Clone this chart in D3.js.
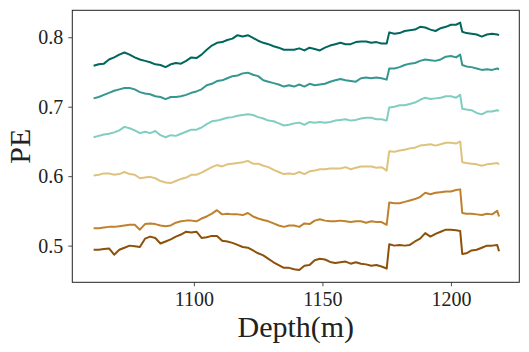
<!DOCTYPE html>
<html>
<head>
<meta charset="utf-8">
<script src="https://cdn.jsdelivr.net/npm/d3@7/dist/d3.min.js"></script>
<style>
  body { margin: 0; background: #fff; }
  svg text { font-family: "Liberation Serif", "DejaVu Serif", serif; fill: #222; }
</style>
</head>
<body>
<svg width="529" height="352"></svg>
<script>
// depth samples (m)
var depths = [1061,1063,1065,1067,1069,1071,1073,1075,1077,1079,1081,1083,1085,1087,1089,1091,
  1093,1095,1097,1099,1101,1103,1105,1107,1109,1111,1113,1115,1117,1119,1121,1123,1125,
  1127,1129,1131,1133,1135,1137,1139,1141,1143,1145,1147,1149,1151,1153,1155,1157,1159,
  1161,1163,1165,1167,1169,1171,1173,1175,
  1176,1178,1180,1182,1184,1186,1188,1190,1192,
  1194,1196,1198,1200,1202,1203.6,1204.4,
  1206,1208,1210,1212,1214,1216,1218,1218.7];

var pe1 = [0.759,0.761,0.762,0.768,0.771,0.775,0.778,0.775,0.771,0.768,0.766,0.764,0.761,0.760,0.757,0.761,
  0.763,0.762,0.766,0.771,0.770,0.775,0.782,0.788,0.792,0.793,0.796,0.798,0.803,0.801,0.803,0.799,0.795,
  0.792,0.790,0.787,0.785,0.782,0.782,0.782,0.784,0.781,0.785,0.783,0.781,0.785,0.788,0.790,0.792,0.790,
  0.790,0.793,0.794,0.794,0.792,0.793,0.791,0.791,
  0.807,0.805,0.806,0.809,0.810,0.811,0.815,0.814,0.811,
  0.809,0.813,0.815,0.818,0.818,0.821,0.808,
  0.806,0.805,0.804,0.801,0.804,0.805,0.804,0.803];

var pe2 = [0.712,0.714,0.717,0.720,0.723,0.725,0.727,0.727,0.725,0.721,0.719,0.718,0.715,0.714,0.711,0.714,
  0.714,0.715,0.717,0.720,0.722,0.725,0.731,0.733,0.737,0.738,0.741,0.744,0.745,0.748,0.749,0.746,0.744,
  0.738,0.736,0.734,0.732,0.729,0.731,0.729,0.732,0.729,0.733,0.731,0.732,0.733,0.736,0.738,0.740,0.738,
  0.737,0.736,0.741,0.742,0.741,0.742,0.741,0.739,
  0.755,0.755,0.757,0.760,0.762,0.763,0.766,0.768,0.767,
  0.766,0.768,0.772,0.773,0.771,0.775,0.760,
  0.758,0.757,0.755,0.753,0.754,0.753,0.755,0.754];

var pe3 = [0.656,0.658,0.660,0.661,0.663,0.666,0.671,0.669,0.666,0.662,0.664,0.662,0.665,0.659,0.656,0.659,
  0.658,0.661,0.664,0.667,0.667,0.670,0.675,0.679,0.680,0.682,0.684,0.685,0.687,0.688,0.689,0.688,0.685,
  0.683,0.680,0.679,0.676,0.673,0.674,0.676,0.677,0.674,0.678,0.677,0.678,0.677,0.678,0.680,0.681,0.682,
  0.680,0.681,0.683,0.684,0.684,0.682,0.682,0.680,
  0.699,0.700,0.702,0.702,0.704,0.706,0.710,0.713,0.711,
  0.712,0.713,0.715,0.715,0.713,0.717,0.697,
  0.696,0.695,0.691,0.689,0.693,0.693,0.695,0.694];

var pe4 = [0.601,0.602,0.604,0.604,0.602,0.603,0.606,0.603,0.602,0.597,0.598,0.599,0.597,0.593,0.591,0.590,
  0.593,0.596,0.598,0.602,0.602,0.605,0.609,0.613,0.616,0.614,0.617,0.618,0.619,0.620,0.622,0.618,0.618,
  0.615,0.613,0.609,0.606,0.603,0.604,0.603,0.606,0.603,0.607,0.608,0.610,0.610,0.611,0.611,0.611,0.613,
  0.610,0.612,0.614,0.614,0.614,0.612,0.613,0.608,
  0.636,0.635,0.637,0.638,0.640,0.641,0.644,0.645,0.646,
  0.644,0.646,0.648,0.648,0.647,0.650,0.620,
  0.619,0.618,0.617,0.615,0.617,0.618,0.619,0.617];

var pe5 = [0.525,0.525,0.526,0.527,0.527,0.528,0.529,0.530,0.530,0.523,0.531,0.532,0.531,0.529,0.528,0.529,
  0.533,0.535,0.536,0.536,0.535,0.539,0.542,0.546,0.551,0.545,0.546,0.545,0.545,0.544,0.547,0.542,0.539,
  0.537,0.535,0.532,0.529,0.527,0.529,0.529,0.527,0.532,0.531,0.536,0.538,0.536,0.535,0.535,0.536,0.535,
  0.534,0.535,0.535,0.533,0.535,0.534,0.534,0.530,
  0.562,0.561,0.561,0.563,0.565,0.567,0.570,0.576,0.574,
  0.576,0.577,0.578,0.578,0.580,0.581,0.547,
  0.546,0.546,0.545,0.544,0.546,0.545,0.550,0.542];

var pe6 = [0.494,0.494,0.495,0.496,0.487,0.494,0.497,0.500,0.499,0.498,0.510,0.513,0.511,0.503,0.506,0.509,
  0.513,0.516,0.520,0.519,0.520,0.511,0.512,0.514,0.514,0.507,0.506,0.504,0.501,0.498,0.497,0.493,0.489,
  0.486,0.481,0.476,0.472,0.468,0.468,0.466,0.465,0.471,0.472,0.479,0.481,0.480,0.4765,0.475,0.476,0.477,
  0.474,0.476,0.474,0.473,0.471,0.472,0.470,0.467,
  0.502,0.500,0.501,0.500,0.501,0.506,0.510,0.518,0.513,
  0.517,0.520,0.523,0.523,0.522,0.521,0.488,
  0.489,0.493,0.494,0.497,0.500,0.500,0.501,0.492];

var seriesList = [pe6, pe5, pe4, pe3, pe2, pe1];
var colors = ["#8c510a", "#bf812d", "#dfc27d", "#80cdc1", "#35978f", "#01665e"];
var xTicks = [1100, 1150, 1200];
var yTicks = [0.5, 0.6, 0.7, 0.8];

var serif = '"Liberation Serif", "DejaVu Serif", serif';

var svg = d3.select("svg");
var margin = { left: 72.3, right: 9.7, top: 10.3, bottom: 69.7 };
var w = 529 - margin.left - margin.right,
  h = 352 - margin.top - margin.bottom;

// matplotlib style 5% padding around the data
var xExt = d3.extent(depths);
var xPad = (xExt[1] - xExt[0]) * 0.05;
var allVals = d3.merge(seriesList);
var yExt = d3.extent(allVals);
var yPad = (yExt[1] - yExt[0]) * 0.05;

var x = d3.scaleLinear().domain([xExt[0] - xPad - 0.4, xExt[1] + xPad]).range([0, w]);
var y = d3.scaleLinear().domain([yExt[0] - yPad, yExt[1] + yPad]).range([h, 0]);

var g = svg.append("g").attr("transform", "translate(" + margin.left + "," + margin.top + ")");

var line = d3.line()
  .x(function (d, i) { return x(depths[i]); })
  .y(function (d) { return y(d); });

g.selectAll("path.pe")
  .data(seriesList)
  .enter()
  .append("path")
  .attr("class", "pe")
  .attr("d", line)
  .attr("fill", "none")
  .attr("stroke", function (d, i) { return colors[i]; })
  .attr("stroke-width", 2)
  .attr("stroke-linejoin", "round");

var xAxis = g.append("g")
  .attr("transform", "translate(0," + h + ")")
  .call(d3.axisBottom(x).tickValues(xTicks).tickSize(4).tickPadding(5.5).tickFormat(d3.format("d")));
var yAxis = g.append("g")
  .call(d3.axisLeft(y).tickValues(yTicks).tickSize(4).tickPadding(5).tickFormat(d3.format(".1f")));

[xAxis, yAxis].forEach(function (a) {
  a.attr("font-family", serif).attr("font-size", 20);
  a.select(".domain").remove();
  a.selectAll("line").attr("stroke", "#222").attr("stroke-width", 0.8);
  a.selectAll("text")
    .attr("font-family", serif)
    .style("font-family", serif)
    .style("font-size", "20px")
    .attr("fill", "#222");
});

g.append("rect")
  .attr("width", w)
  .attr("height", h)
  .attr("fill", "none")
  .attr("stroke", "#222")
  .attr("stroke-width", 1);

svg.append("text")
  .attr("x", margin.left + w / 2)
  .attr("y", 337)
  .attr("text-anchor", "middle")
  .style("font-size", "30px")
  .text("Depth(m)");

svg.append("text")
  .attr("transform", "translate(29.5," + (margin.top + h / 2) + ") rotate(-90)")
  .attr("text-anchor", "middle")
  .style("font-size", "30px")
  .text("PE");
</script>
</body>
</html>
